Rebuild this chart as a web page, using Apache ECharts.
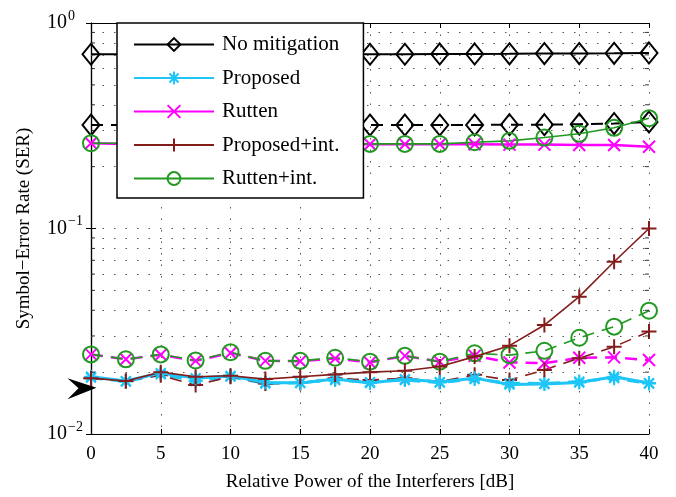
<!DOCTYPE html>
<html>
<head>
<meta charset="utf-8">
<title>SER versus interferer power</title>
<script src="https://cdn.jsdelivr.net/npm/echarts@6/dist/echarts.min.js"></script>
<style>
  html, body { margin: 0; padding: 0; background: #fff; }
  #chart { width: 676px; height: 497px; }
</style>
</head>
<body>
<div id="chart"></div>
<script>
// Relative interferer power [dB]
const powerDb = [0, 2.5, 5, 7.5, 10, 12.5, 15, 17.5, 20, 22.5, 25, 27.5, 30, 32.5, 35, 37.5, 40];

// Symbol-error rate, first scenario (solid lines)
const noMitigation = [0.705, 0.705, 0.705, 0.705, 0.705, 0.705, 0.705, 0.705, 0.705, 0.705, 0.707, 0.707, 0.708, 0.710, 0.710, 0.712, 0.715];
const proposed     = [0.0190, 0.0181, 0.0198, 0.0187, 0.0192, 0.0178, 0.0177, 0.0185, 0.0177, 0.0185, 0.0179, 0.0187, 0.0174, 0.0175, 0.0178, 0.0190, 0.0177];
const rutten       = [0.260, 0.258, 0.258, 0.258, 0.258, 0.257, 0.257, 0.257, 0.257, 0.257, 0.257, 0.257, 0.256, 0.256, 0.255, 0.255, 0.250];
const proposedInt  = [0.0187, 0.0181, 0.0200, 0.0190, 0.0192, 0.0185, 0.0190, 0.0195, 0.0200, 0.0203, 0.0213, 0.0238, 0.0269, 0.0339, 0.0466, 0.0689, 0.100];
const ruttenInt    = [0.260, 0.260, 0.260, 0.260, 0.260, 0.260, 0.260, 0.260, 0.258, 0.258, 0.258, 0.263, 0.267, 0.277, 0.289, 0.309, 0.344];

// Symbol-error rate, second scenario (dashed lines)
const noMitigation2 = [0.319, 0.319, 0.319, 0.319, 0.319, 0.319, 0.319, 0.319, 0.319, 0.319, 0.319, 0.319, 0.320, 0.320, 0.322, 0.324, 0.330];
const proposed2     = [0.0188, 0.0180, 0.0195, 0.0181, 0.0190, 0.0176, 0.0178, 0.0183, 0.0179, 0.0183, 0.0178, 0.0185, 0.0177, 0.0176, 0.0180, 0.0187, 0.0176];
const rutten2       = [0.0244, 0.0231, 0.0243, 0.0227, 0.0248, 0.0227, 0.0226, 0.0233, 0.0223, 0.0240, 0.0225, 0.0240, 0.0223, 0.0221, 0.0235, 0.0236, 0.0229];
const proposedInt2  = [0.0187, 0.0181, 0.0193, 0.0173, 0.0190, 0.0176, 0.0177, 0.0187, 0.0183, 0.0187, 0.0180, 0.0194, 0.0183, 0.0205, 0.0234, 0.0266, 0.0315];
const ruttenInt2    = [0.0244, 0.0231, 0.0244, 0.0228, 0.0250, 0.0227, 0.0227, 0.0235, 0.0225, 0.0240, 0.0225, 0.0247, 0.0242, 0.0254, 0.0294, 0.0333, 0.0398];

// Reference SER marked by the arrow on the y axis
const referenceSer = 0.0166;

// Axis ticks
const xTicks = { min: 0, max: 40, step: 5 };
const yMinorTicks = [0.02, 0.03, 0.04, 0.05, 0.06, 0.07, 0.08, 0.09, 0.2, 0.3, 0.4, 0.5, 0.6, 0.7, 0.8, 0.9];

const FONT = '"Liberation Serif", "DejaVu Serif", serif';

const SYM = {
  diamond: 'diamond',
  asterisk: 'path://M0,5L10,5M5,0L5,10M1.5,1.5L8.5,8.5M1.5,8.5L8.5,1.5',
  cross: 'path://M0,0L10,10M0,10L10,0',
  plus: 'path://M5,0L5,10M0,5L10,5',
  circle: 'circle'
};

const toPoints = arr => powerDb.map((x, i) => [x, arr[i]]);

function lineSeries(name, values, color, width, symbol, size, dashed) {
  return {
    name: name,
    type: 'line',
    data: toPoints(values),
    symbol: symbol,
    symbolSize: size,
    showAllSymbol: true,
    lineStyle: { color: color, width: width, type: dashed ? [12, 8] : 'solid' },
    itemStyle: { color: 'rgba(0,0,0,0)', borderColor: color, borderWidth: 2 },
    emphasis: { disabled: true },
    silent: true,
    z: dashed ? 3 : 4
  };
}

const series = [
  lineSeries('No mitigation', noMitigation, '#000000', 2, SYM.diamond, [17, 21], false),
  lineSeries('Proposed', proposed, '#1ec5f7', 3, SYM.asterisk, 14, false),
  lineSeries('Rutten', rutten, '#ff00ff', 2.5, SYM.cross, 12, false),
  lineSeries('Proposed+int.', proposedInt, '#841c1c', 1.6, SYM.plus, 15, false),
  lineSeries('Rutten+int.', ruttenInt, '#229a22', 1.6, SYM.circle, 16, false),
  lineSeries('No mitigation', noMitigation2, '#000000', 2, SYM.diamond, [17, 21], true),
  lineSeries('Proposed', proposed2, '#1ec5f7', 3, SYM.asterisk, 14, true),
  lineSeries('Rutten', rutten2, '#ff00ff', 2.5, SYM.cross, 12, true),
  lineSeries('Proposed+int.', proposedInt2, '#841c1c', 1.6, SYM.plus, 15, true),
  lineSeries('Rutten+int.', ruttenInt2, '#229a22', 1.6, SYM.circle, 16, true)
];

// Minor log ticks on the left and right frame, plus dotted minor grid
const gridDots = { color: '#555', width: 1, type: [1.5, 10] };
series.push({
  type: 'scatter',
  silent: true,
  data: yMinorTicks.map(v => [xTicks.min, v]),
  symbol: 'rect',
  symbolSize: [4, 1],
  symbolOffset: [2, 0],
  itemStyle: { color: '#000' },
  z: 5,
  markLine: {
    silent: true,
    symbol: 'none',
    label: { show: false },
    lineStyle: gridDots,
    data: yMinorTicks.map(v => ({ yAxis: v }))
  }
});
series.push({
  type: 'scatter',
  silent: true,
  data: yMinorTicks.map(v => [xTicks.max, v]),
  symbol: 'rect',
  symbolSize: [4, 1],
  symbolOffset: [-2, 0],
  itemStyle: { color: '#000' },
  z: 5,
  markPoint: {
    silent: true,
    symbol: 'path://M0,0L29,9.5L0,21L11,10Z',
    symbolSize: [29, 21],
    symbolKeepAspect: false,
    symbolOffset: [-9, 0],
    itemStyle: { color: '#000' },
    label: { show: false },
    data: [{ coord: [xTicks.min, referenceSer] }]
  }
});

const axisLineStyle = { lineStyle: { color: '#000', width: 1.2 } };
const tickStyle = { show: true, inside: true, length: 5, lineStyle: { color: '#000', width: 1 } };

const chart = echarts.init(document.getElementById('chart'), null, { renderer: 'canvas' });
chart.setOption({
  animation: false,
  backgroundColor: '#fff',
  textStyle: { fontFamily: FONT },
  grid: { left: 91, right: 27, top: 23, bottom: 63, containLabel: false },
  legend: {
    data: ['No mitigation', 'Proposed', 'Rutten', 'Proposed+int.', 'Rutten+int.'],
    orient: 'vertical',
    left: 117,
    top: 23,
    padding: [11, 24, 9, 16],
    itemGap: 12.5,
    itemWidth: 80,
    itemHeight: 16,
    backgroundColor: '#fff',
    borderColor: '#000',
    borderWidth: 1.5,
    selectedMode: false,
    textStyle: { fontFamily: FONT, fontSize: 21, color: '#000', lineHeight: 21, padding: [0, 0, 0, 3] },
    z: 10
  },
  xAxis: [
    {
      type: 'value', min: xTicks.min, max: xTicks.max, interval: xTicks.step,
      position: 'bottom',
      name: 'Relative Power of the Interferers [dB]',
      nameLocation: 'middle', nameGap: 39,
      nameTextStyle: { fontFamily: FONT, fontSize: 19, color: '#000' },
      axisLine: axisLineStyle, axisTick: tickStyle,
      axisLabel: { fontFamily: FONT, fontSize: 19, color: '#000', margin: 11 },
      splitLine: { show: true, lineStyle: gridDots }
    },
    {
      type: 'value', min: xTicks.min, max: xTicks.max, interval: xTicks.step,
      position: 'top',
      axisLine: axisLineStyle, axisTick: tickStyle,
      axisLabel: { show: false }, splitLine: { show: false }
    }
  ],
  yAxis: [
    {
      type: 'log', logBase: 10, min: 0.01, max: 1,
      position: 'left',
      name: 'Symbol\u2212Error Rate (SER)',
      nameLocation: 'middle', nameGap: 57,
      nameTextStyle: { fontFamily: FONT, fontSize: 19, color: '#000' },
      axisLine: axisLineStyle, axisTick: tickStyle,
      axisLabel: {
        align: 'left', margin: 44,
        formatter: v => '{b|10}{s|' + String(Math.round(Math.log10(v))).replace('-', '\u2212') + '}',
        rich: {
          b: { fontFamily: FONT, fontSize: 20, color: '#000' },
          s: { fontFamily: FONT, fontSize: 14, color: '#000', padding: [0, 0, 14, 1] }
        }
      },
      splitLine: { show: true, lineStyle: gridDots }
    },
    {
      type: 'log', logBase: 10, min: 0.01, max: 1,
      position: 'right',
      axisLine: axisLineStyle, axisTick: tickStyle,
      axisLabel: { show: false }, splitLine: { show: false }
    }
  ],
  series: series
});
</script>
</body>
</html>
